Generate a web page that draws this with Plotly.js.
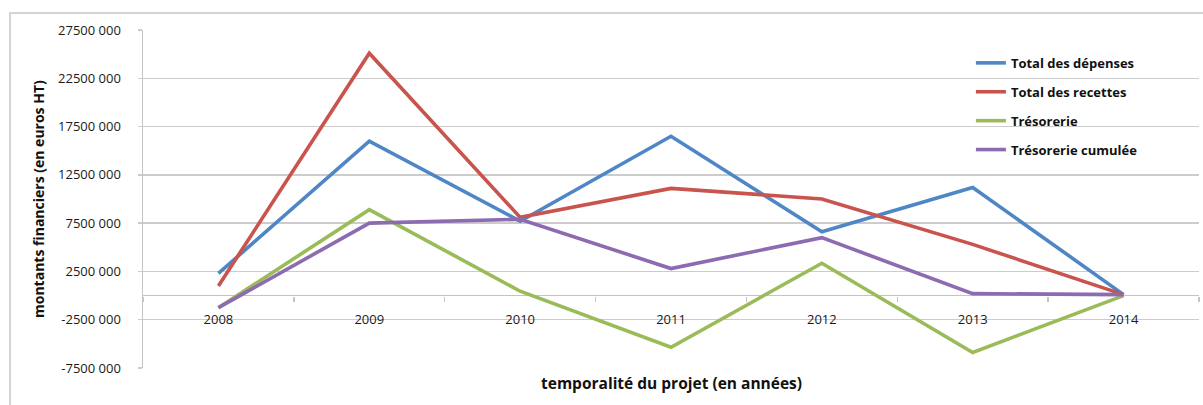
<!DOCTYPE html>
<html>
<head>
<meta charset="utf-8">
<script src="https://cdn.plot.ly/plotly-3.0.1.min.js"></script>
<style>
html,body{margin:0;padding:0;background:#fff;}
#frame{position:absolute;left:9px;top:12px;width:1400px;height:600px;border:2px solid #d4d4d4;box-sizing:border-box;}
#chart{position:absolute;left:0;top:0;width:1203px;height:405px;}
</style>
</head>
<body>
<div id="frame"></div>
<div id="chart"></div>
<script>
const years = ['2008','2009','2010','2011','2012','2013','2014'];
const depenses = [2300000, 16000000, 7700000, 16500000, 6600000, 11200000, 100000];
const recettes = [1000000, 25100000, 8100000, 11100000, 10000000, 5300000, 100000];
const tresorerie = [-1250000, 8900000, 450000, -5350000, 3350000, -5900000, 0];
const tresorerieCumulee = [-1250000, 7500000, 7900000, 2800000, 6000000, 200000, 100000];
const seriesNames = ['Total des dépenses', 'Total des recettes', 'Trésorerie', 'Trésorerie cumulée'];
const seriesColors = ['#4F86C6', '#C9534D', '#9BBB59', '#8C6BB1'];
const yTickVals = [-7500000, -2500000, 2500000, 7500000, 12500000, 17500000, 22500000, 27500000];
const yTickText = ['-7500 000', '-2500 000', '2500 000', '7500 000', '12500 000', '17500 000', '22500 000', '27500 000'];
const xTitle = 'temporalité du projet (en années)';
const yTitle = 'montants financiers (en euros HT)';

const allSeries = [depenses, recettes, tresorerie, tresorerieCumulee];
const FONT = '"Open Sans", sans-serif';
const traces = allSeries.map((vals, i) => ({
  type: 'scatter', mode: 'lines', x: years, y: vals, name: seriesNames[i],
  legendgroup: 'g' + i,
  line: {color: seriesColors[i], width: 3.6}
}));

const yMin = -7500000, yMax = 27500000;
const layout = {
  width: 1203, height: 405,
  margin: {l: 143, r: 4, t: 30, b: 37},
  paper_bgcolor: 'rgba(0,0,0,0)', plot_bgcolor: 'rgba(0,0,0,0)',
  font: {family: FONT, color: '#1a1a1a', size: 12},
  showlegend: true,
  legend: {
    x: 0.784, y: 0.947, xanchor: 'left', yanchor: 'top',
    bgcolor: 'rgba(255,255,255,0)', tracegroupgap: 9, itemwidth: 30,
    font: {family: FONT, size: 13, color: '#111', weight: 'bold'}
  },
  xaxis: {
    type: 'category', anchor: 'free', position: (0 - yMin) / (yMax - yMin),
    range: [-0.5, 6.5], tickson: 'boundaries', ticks: 'outside', ticklen: 5,
    tickcolor: '#c4c4c4', tickwidth: 1.5, showgrid: false, showline: false,
    ticklabelstandoff: 14, tickfont: {family: FONT, size: 13, color: '#1a1a1a'},
    fixedrange: true
  },
  yaxis: {
    range: [yMin, yMax], tickmode: 'array', tickvals: yTickVals, ticktext: yTickText,
    showgrid: true, gridcolor: '#cccccc', gridwidth: 1.5,
    zeroline: true, zerolinecolor: '#c4c4c4', zerolinewidth: 1.5,
    showline: true, linecolor: '#c4c4c4', linewidth: 1.5,
    ticks: 'outside', ticklen: 4, tickcolor: '#cccccc', tickwidth: 1.5,
    ticklabelstandoff: 14, tickfont: {family: FONT, size: 13, color: '#1a1a1a'},
    fixedrange: true
  },
  annotations: [
    {text: xTitle, xref: 'paper', yref: 'paper', x: 0.5, y: -(383 - 368) / 338,
     xanchor: 'center', yanchor: 'middle', showarrow: false,
     font: {family: FONT, size: 15.5, color: '#111', weight: 'bold'}},
    {text: yTitle, xref: 'paper', yref: 'paper', x: (38 - 143) / 1056, y: 0.5,
     xanchor: 'center', yanchor: 'middle', showarrow: false, textangle: -90,
     font: {family: FONT, size: 14, color: '#111', weight: 'bold'}}
  ]
};
Plotly.newPlot('chart', traces, layout, {displayModeBar: false, staticPlot: true});
</script>
</body>
</html>
